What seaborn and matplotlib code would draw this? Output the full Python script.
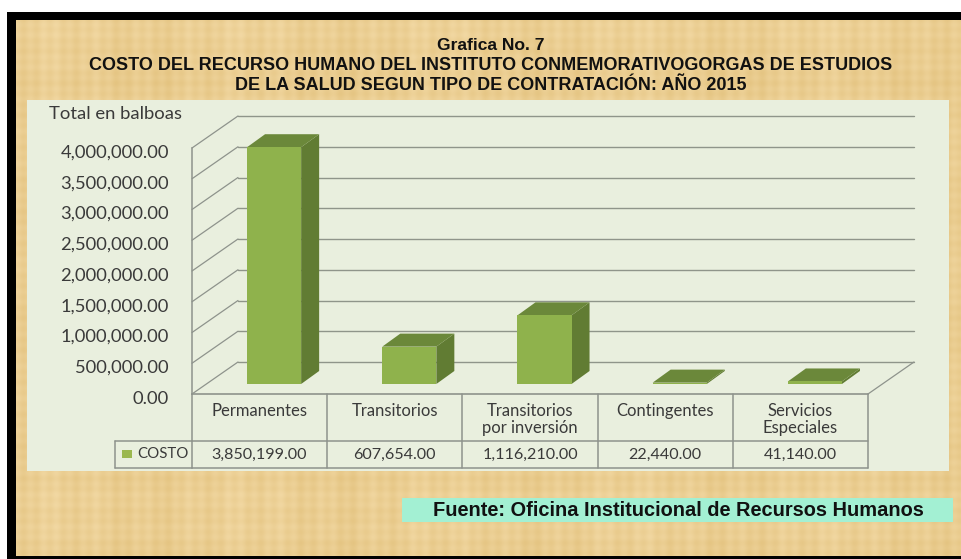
import matplotlib

matplotlib.use("Agg")
import matplotlib.pyplot as plt
import numpy as np
import pandas as pd
import seaborn as sns
from matplotlib.patches import Polygon, Rectangle
from matplotlib.transforms import Affine2D, blended_transform_factory

categories = ["Permanentes", "Transitorios", "Transitorios\npor inversión", "Contingentes", "Servicios\nEspeciales"]
costo = [3850199.0, 607654.0, 1116210.0, 22440.0, 41140.0]
costo_labels = ["3,850,199.00", "607,654.00", "1,116,210.00", "22,440.00", "41,140.00"]
y_ticks = [0, 500000, 1000000, 1500000, 2000000, 2500000, 3000000, 3500000, 4000000]
y_labels = ["0.00", "500,000.00", "1,000,000.00", "1,500,000.00", "2,000,000.00",
            "2,500,000.00", "3,000,000.00", "3,500,000.00", "4,000,000.00"]
title_lines = ["Grafica No. 7",
               "COSTO DEL RECURSO HUMANO DEL INSTITUTO CONMEMORATIVOGORGAS DE ESTUDIOS",
               "DE LA SALUD SEGUN TIPO DE CONTRATACIÓN: AÑO 2015"]
fuente = "Fuente: Oficina Institucional de Recursos Humanos"

W, H = 962, 559
GRID = "#8f958a"
LINE = "#8e938c"
TEXT = "#3a3a3a"

sns.set_theme(style="white")
plt.rcParams["font.family"] = ["Lato", "DejaVu Sans"]

fig = plt.figure(figsize=(W / 100, H / 100), dpi=100, facecolor="white")
# pixel coordinates, origin top left
px = Affine2D().scale(1, -1).translate(0, H)

# background with the paper look
bg = fig.add_axes([0, 0, 1, 1])
bg.axis("off")
xx, yy = np.meshgrid(np.arange(W), np.arange(H))
streaks = (np.sin(xx / 2.1) + 0.7 * np.sin(xx / 7.3 + 1) + 0.6 * np.sin(xx / 31.0)
           + 0.6 * np.sin(yy / 1.7) + 0.4 * np.sin(yy / 5.3 + 2) + 0.4 * np.sin(yy / 19.0))
base = np.array([235, 206, 146])[None, None, :]
paper = np.clip(base + streaks[:, :, None] * np.array([2.0, 3.0, 5.0]), 0, 255).astype(np.uint8)
bg.add_patch(Rectangle((7, 12), W - 7, H - 12, fc="black", ec="none", zorder=1))
img = bg.imshow(paper, extent=(0, W, H, 0), aspect="auto", zorder=2)
img.set_clip_path(Rectangle((16, 20), W - 16, 536, transform=bg.transData))
bg.set_xlim(0, W)
bg.set_ylim(H, 0)
bg.add_patch(Rectangle((27, 100), 922, 371, fc="#e9efde", ec="none", zorder=3))
bg.add_patch(Rectangle((402, 498), 551, 24, fc="#a3f0d3", ec="none", zorder=3))

# front plane of the chart
ax = fig.add_axes([192 / W, (H - 394) / H, 676 / W, 246 / H])
ax.patch.set_alpha(0)

df = pd.DataFrame({"tipo": categories, "costo": costo})
sns.barplot(data=df, x="tipo", y="costo", width=0.4, color="#8fb24c", saturation=1,
            edgecolor="none", linewidth=0, ax=ax, zorder=5)
ax.set_xlim(-0.5, 4.5)
ax.set_ylim(0, 4000000)
ax.set_xlabel("")
ax.set_ylabel("")
ax.set_xticks([])
ax.set_yticks(y_ticks)
ax.tick_params(axis="y", length=0, labelleft=False)
for s in ["top", "right", "bottom"]:
    ax.spines[s].set_visible(False)
ax.spines["left"].set_color(LINE)
ax.spines["left"].set_linewidth(1.1)

# tick labels sit a little under their gridline in the original
tick_tr = blended_transform_factory(px, ax.transData + Affine2D().translate(0, -3))
for t, lab in zip(y_ticks, y_labels):
    ax.text(169, t, lab, transform=tick_tr, ha="right", va="center_baseline", fontsize=13.2,
            color=TEXT, clip_on=False)

# 3d look: wall and floor offsets in pixels
back = ax.transData + Affine2D().translate(46, 32)
bar_shift = ax.transData + Affine2D().translate(14.5, 10)
xl, xr = ax.get_xlim()

for t in y_ticks:
    ax.plot([xl, xr], [t, t], color=GRID, lw=1.0, transform=back, clip_on=False, zorder=1)
    p0 = ax.transData.transform((xl, t))
    ax.plot([p0[0], p0[0] + 46], [p0[1], p0[1] + 32], color=LINE, lw=0.9,
            transform=None, clip_on=False, zorder=1)
pr = ax.transData.transform((xr, 0))
ax.plot([pr[0], pr[0] + 46], [pr[1], pr[1] + 32], color=LINE, lw=0.9, transform=None, clip_on=False, zorder=1)
ax.plot([xl, xr], [0, 0], color=LINE, lw=1.2, clip_on=False, zorder=2)

# bars: front from seaborn, moved onto the floor, side and top faces from its geometry
for bar in list(ax.patches):
    bar.set_transform(bar_shift)
    bar.set_clip_on(False)
    x0, h, w = bar.get_x(), bar.get_height(), bar.get_width()
    a = np.array(ax.transData.transform((x0, 0))) + (14.5, 10)
    b = np.array(ax.transData.transform((x0 + w, h))) + (14.5, 10)
    side = [(b[0], a[1]), (b[0] + 18, a[1] + 13), (b[0] + 18, b[1] + 13), (b[0], b[1])]
    top = [(a[0], b[1]), (b[0], b[1]), (b[0] + 18, b[1] + 13), (a[0] + 18, b[1] + 13)]
    ax.add_patch(Polygon(side, fc="#617c33", ec="none", transform=None, clip_on=False, zorder=4))
    ax.add_patch(Polygon(top, fc="#6b883a", ec="none", transform=None, clip_on=False, zorder=4))

# data table below the chart
cols = blended_transform_factory(ax.transData, px)
edges = np.arange(-0.5, 5.0)
ax.plot([xl, xr], [441, 441], color=LINE, lw=1.1, transform=cols, clip_on=False)
ax.plot([xl, xr], [468, 468], color=LINE, lw=1.1, transform=cols, clip_on=False)
for e in edges:
    ax.plot([e, e], [394, 468], color=LINE, lw=1.1, transform=cols, clip_on=False)
for i, (cat, val) in enumerate(zip(categories, costo_labels)):
    ax.text(i, 403, cat, transform=cols, ha="center", va="top", fontsize=12, color=TEXT, linespacing=1.1)
    ax.text(i, 454.5, val, transform=cols, ha="center", va="center", fontsize=11.6, color=TEXT)
fig.add_artist(plt.Line2D([115, 192], [441, 441], color=LINE, lw=1.1, transform=px))
fig.add_artist(plt.Line2D([115, 192], [468, 468], color=LINE, lw=1.1, transform=px))
fig.add_artist(plt.Line2D([115, 115], [441, 468], color=LINE, lw=1.1, transform=px))
fig.add_artist(Rectangle((122, 458), 10, -8, fc="#9bb84f", ec="none", transform=px))
fig.text(137, 454.5, "COSTO", transform=px, ha="left", va="center", fontsize=10.8, color=TEXT)
fig.text(49, 114, "Total en balboas", transform=px, ha="left", va="center", fontsize=13.3, color=TEXT)

# titles
for txt, y, fs in zip(title_lines, [46, 65, 85], [12.6, 13, 13]):
    fig.text(491, y, txt, transform=px, ha="center", va="center", fontsize=fs, fontweight="bold",
             family=["Liberation Sans", "DejaVu Sans"], color="#111111")
fig.text(678, 511, fuente, transform=px, ha="center", va="center", fontsize=14.4, fontweight="bold",
         family=["Liberation Sans", "DejaVu Sans"], color="#111111")

fig.savefig("out.png", dpi=100)
